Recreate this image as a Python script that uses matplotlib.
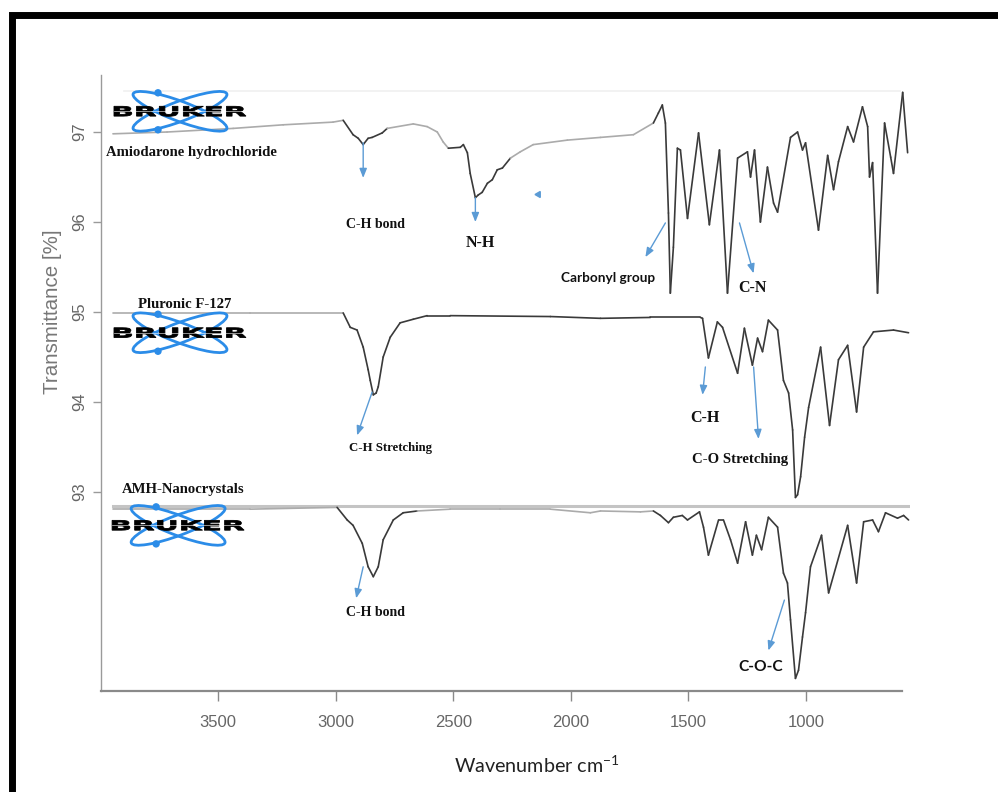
import matplotlib
matplotlib.use("Agg")
import matplotlib.pyplot as plt
import numpy as np
from matplotlib.collections import LineCollection
from matplotlib.patches import Ellipse, Circle, PathPatch
from matplotlib.textpath import TextPath
from matplotlib.font_manager import FontProperties
from matplotlib.transforms import Affine2D, IdentityTransform
from matplotlib.lines import Line2D

plt.rcParams["mathtext.default"] = "regular"

# --- spectra: wavenumber (cm-1) / transmittance (%) ---
amio_wn = [3947, 3717, 3436, 3223, 3011, 2968, 2926, 2904, 2883, 2862,
           2845, 2802, 2781, 2670, 2611, 2568, 2543, 2521, 2470, 2457,
           2440, 2428, 2406, 2394, 2377, 2355, 2334, 2313, 2291, 2257,
           2215, 2160, 2015, 1874, 1734, 1649, 1628, 1611, 1598,
           1585, 1577, 1564, 1547, 1534, 1504, 1457, 1411, 1368, 1334,
           1291, 1249, 1236, 1219, 1194, 1164, 1138, 1121, 1066, 1036,
           1015, 1002, 947, 908, 883, 862, 823, 798, 760, 738,
           730, 717, 696, 666, 640, 628, 589, 568]
amio_t = [96.98, 97.00, 97.04, 97.08, 97.11, 97.13, 96.97, 96.93, 96.86, 96.93,
          96.94, 96.99, 97.04, 97.09, 97.06, 97.00, 96.89, 96.82, 96.83, 96.86,
          96.77, 96.54, 96.27, 96.30, 96.33, 96.43, 96.47, 96.58, 96.60, 96.71,
          96.78, 96.86, 96.91, 96.94, 96.97, 97.10, 97.21, 97.30, 97.10,
          96.10, 95.21, 95.72, 96.82, 96.80, 96.04, 96.99, 95.97, 96.80, 95.21,
          96.71, 96.78, 96.50, 96.80, 96.00, 96.61, 96.21, 96.11, 96.94, 97.00,
          96.80, 96.88, 95.91, 96.74, 96.36, 96.67, 97.06, 96.89, 97.28, 97.06,
          96.50, 96.66, 95.21, 97.10, 96.72, 96.54, 97.44, 96.77]

plu_wn = [3947, 3364, 2968, 2938, 2909, 2883, 2862, 2853, 2840, 2828, 2819, 2798,
          2768, 2726, 2670, 2611, 2513, 2087, 1874, 1662, 1449, 1440,
          1415, 1377, 1355, 1291, 1262, 1228, 1206, 1185, 1160, 1121,
          1096, 1074, 1057, 1045, 1036, 1023, 1006, 989, 938, 900, 862, 823, 785,
          755, 713, 628, 564]
plu_t = [94.99, 94.99, 94.99, 94.83, 94.80, 94.61, 94.36, 94.24, 94.08, 94.10, 94.17, 94.50,
         94.72, 94.88, 94.92, 94.96, 94.96, 94.95, 94.93, 94.94, 94.94, 94.93,
         94.49, 94.89, 94.83, 94.32, 94.82, 94.41, 94.71, 94.56, 94.91, 94.80,
         94.24, 94.10, 93.69, 92.94, 92.97, 93.17, 93.61, 93.94, 94.61, 93.74, 94.47, 94.63, 93.89,
         94.61, 94.78, 94.80, 94.77]

amh_wn = [3947, 3364, 2994, 2951, 2926, 2887, 2862, 2840, 2819, 2798,
          2755, 2713, 2653, 2513, 2300, 2087, 1917, 1874, 1704, 1649,
          1619, 1585, 1564, 1526, 1504, 1453, 1436, 1415, 1372, 1351,
          1321, 1291, 1257, 1228, 1211, 1189, 1160, 1121, 1096, 1079,
          1066, 1045, 1032, 1015, 1002, 981, 934, 904, 823, 785, 755, 717, 692,
          662, 611, 585, 564]
amh_t = [92.81, 92.81, 92.83, 92.69, 92.63, 92.43, 92.17, 92.06, 92.17, 92.47,
         92.69, 92.77, 92.79, 92.81, 92.81, 92.81, 92.77, 92.79, 92.78, 92.79,
         92.74, 92.66, 92.72, 92.74, 92.69, 92.78, 92.61, 92.30, 92.69, 92.69,
         92.47, 92.21, 92.67, 92.30, 92.52, 92.36, 92.72, 92.61, 92.10, 91.99,
         91.58, 90.93, 91.02, 91.39, 91.66, 92.17, 92.52, 91.88, 92.63, 91.99, 92.67, 92.69, 92.56,
         92.77, 92.71, 92.74, 92.69]

# flat parts of each trace come out light grey in the source picture
amio_grey = [(3960, 2968), (2781, 2521), (2257, 1640)]
plu_grey = [(3960, 2968)]
amh_grey = [(3960, 2994), (2653, 1650)]

amh_ref_level = 92.84
x_ticks = [3500, 3000, 2500, 2000, 1500, 1000]
y_ticks = [93, 94, 95, 96, 97]

sample_labels = [("Amiodarone hydrochloride", 3615, 96.77, 10.6),
                 ("Pluronic F-127", 3640, 95.08, 10.6),
                 ("AMH-Nanocrystals", 3649, 93.03, 10.6)]
logo_pos = [(3662, 97.23), (3662, 94.77), (3670, 92.63)]

# (text, text_xy, arrow tail, arrow head, font, size)
peaks = [
    ("C-H bond", (2832, 95.97), (2883, 96.88), (2883, 96.49), "serif", 10),
    ("N-H", (2385, 95.77), (2406, 96.27), (2406, 96.00), "serif", 11.5),
    ("Carbonyl group", (1840, 95.38), (1598, 95.99), (1683, 95.61), "sans", 9.8),
    ("C-N", (1228, 95.27), (1283, 95.99), (1223, 95.43), "serif", 11.5),
    ("C-H Stretching", (2768, 93.49), (2845, 94.11), (2909, 93.63), "serif", 9.2),
    ("C-H", (1428, 93.82), (1428, 94.39), (1440, 94.08), "serif", 11.5),
    ("C-O Stretching", (1279, 93.36), (1223, 94.39), (1202, 93.59), "serif", 10.6),
    ("C-H bond", (2832, 91.66), (2883, 92.17), (2913, 91.82), "serif", 10),
    ("C-O-C", (1194, 91.06), (1092, 91.80), (1160, 91.24), "sans", 11.2),
]

DARK = "#3a3a3a"
GREY = "#ababab"
BLUE = "#5b9bd5"
LOGO_BLUE = "#2b8ce8"
SERIF = "Liberation Serif"
SANS_LABEL = "Lato"
TICK_FONT = ["Liberation Sans Narrow", "Liberation Sans"]

W, H = 998, 792
fig = plt.figure(figsize=(W / 100, H / 100), dpi=100)
ax = fig.add_axes([100.5 / W, (H - 691) / H, 809 / W, 626.5 / H])
ax.set_xlim(4000, 560)
ax.set_ylim(90.79, 97.75)


def draw_trace(wn, t, grey_ranges):
    pts = np.column_stack([wn, t])
    segs = np.stack([pts[:-1], pts[1:]], axis=1)
    mid = (pts[:-1, 0] + pts[1:, 0]) / 2
    cols = []
    for m in mid:
        is_grey = any(lo <= m <= hi for hi, lo in grey_ranges)
        cols.append(GREY if is_grey else DARK)
    ax.add_collection(LineCollection(segs, colors=cols, linewidths=1.2,
                                     capstyle="round", joinstyle="round"))


# faint line along the top, and the grey reference line of the bottom trace
ax.plot([3900, 600], [97.46, 97.46], color="#f0f0f0", lw=1.2)
ax.plot([amh_wn[0], amh_wn[-1]], [amh_ref_level, amh_ref_level],
        color="#c4c4c4", lw=2.2)

draw_trace(amio_wn, amio_t, amio_grey)
draw_trace(plu_wn, plu_t, plu_grey)
draw_trace(amh_wn, amh_t, amh_grey)

for text, x, y, size in sample_labels:
    ax.text(x, y, text, family=SERIF, weight="bold", fontsize=size,
            ha="center", va="center", color="#111111")

for text, txy, tail, head, font, size in peaks:
    ax.annotate("", xy=head, xytext=tail,
                arrowprops=dict(arrowstyle="-|>,head_length=0.55,head_width=0.22",
                                color=BLUE, lw=1.0, shrinkA=0, shrinkB=0))
    fam = SERIF if font == "serif" else SANS_LABEL
    ax.text(txy[0], txy[1], text, family=fam, weight="bold", fontsize=size,
            ha="center", va="center", color="#111111")

# stray arrow head left in the original figure
ax.plot([2138], [96.31], marker=(3, 0, 90), color=BLUE, ms=5, ls="none")

# axes styling
for side in ("top", "right"):
    ax.spines[side].set_visible(False)
ax.spines["left"].set_color("#9a9a9a")
ax.spines["left"].set_linewidth(1.0)
ax.spines["left"].set_bounds(90.79, 97.63)
ax.spines["bottom"].set_color("#8a8a8a")
ax.spines["bottom"].set_linewidth(1.6)
ax.spines["bottom"].set_bounds(4000, 594)

ax.set_xticks(x_ticks)
ax.set_yticks(y_ticks)
ax.tick_params(axis="x", length=7, width=1, color="#8a8a8a", pad=10,
               labelsize=12, labelcolor="#666666")
ax.tick_params(axis="y", length=5.5, width=1, color="#9a9a9a", pad=4,
               labelsize=12, labelcolor="#666666")
for lab in ax.get_xticklabels():
    lab.set_family(TICK_FONT)
for lab in ax.get_yticklabels():
    lab.set_family(TICK_FONT)
    lab.set_rotation(90)
    lab.set_va("center")

ax.set_ylabel("Transmittance [%]", family="Liberation Sans", fontsize=14.8,
              color="#777777", va="center", ha="center")
ax.yaxis.set_label_coords((53 - 100.5) / 809, (691 - 312) / 626.5)
ax.set_xlabel(r"Wavenumber cm$^{\mathregular{-1}}$", family=SANS_LABEL,
              fontsize=14.2, color="#222222", va="center")
ax.xaxis.set_label_coords((537 - 100.5) / 809, (691 - 765) / 626.5)

# --- Bruker logos ---
fig.canvas.draw()
ident = IdentityTransform()
word = TextPath((0, 0), "BRUKER", size=1,
                prop=FontProperties(family="DejaVu Sans", weight="bold"))
wb = word.get_extents()
for lx, ly in logo_pos:
    cx, cy = ax.transData.transform((lx, ly))
    for ang in (20.5, -20.5):
        fig.add_artist(Ellipse((cx, cy), 100, 20, angle=ang, fill=False,
                               ec=LOGO_BLUE, lw=2.0, transform=ident))
    for dy in (18.5, -18.5):
        fig.add_artist(Circle((cx - 22, cy + dy), 3, color=LOGO_BLUE,
                              transform=ident))
    sx = 132 / wb.width
    sy = 10 / wb.height
    tr = Affine2D().translate(-wb.x0 - wb.width / 2, -wb.y0 - wb.height / 2) \
        .scale(sx, sy).translate(cx, cy) + ident
    fig.add_artist(PathPatch(word, fc="black", ec="black", lw=0.6, transform=tr))
    fig.add_artist(Line2D([cx - 66, cx + 66], [cy, cy], color="white",
                          lw=0.5, alpha=0.8, transform=ident))

# black frame (open to the right / bottom like the cropped source)
fig.add_artist(Line2D([11.5, 11.5, W + 5], [-5, H - 14.5, H - 14.5],
                      color="black", lw=5, transform=ident,
                      solid_joinstyle="miter"))

fig.savefig("out.png", dpi=100)
